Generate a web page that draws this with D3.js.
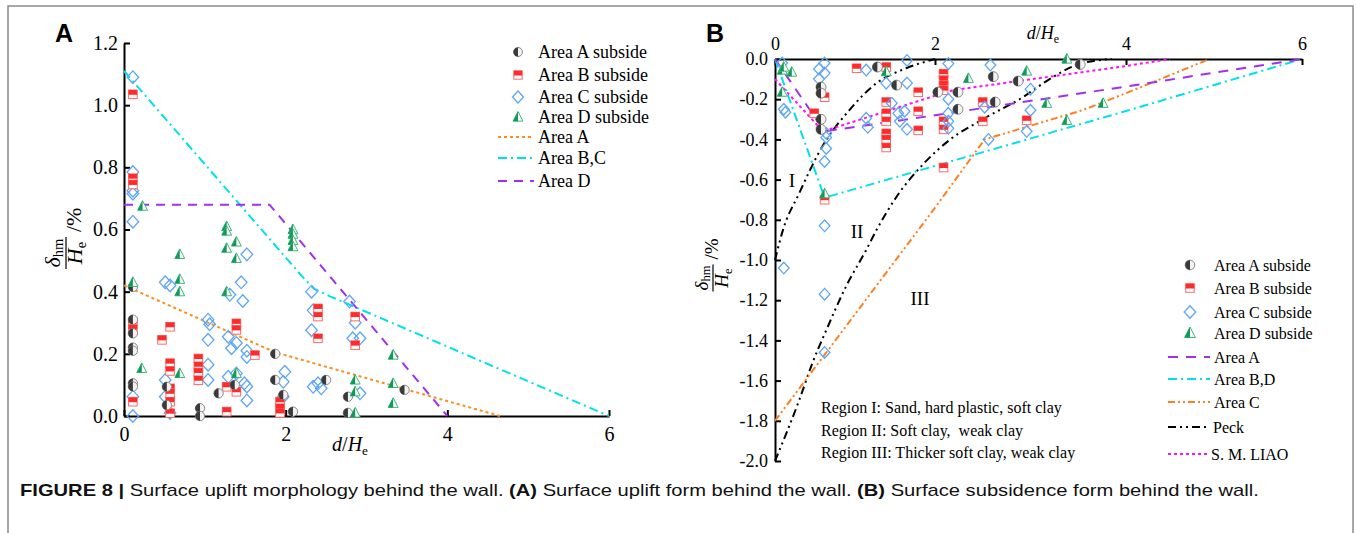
<!DOCTYPE html>
<html><head><meta charset="utf-8">
<script src="https://cdn.jsdelivr.net/npm/d3@7"></script>
<style>body{margin:0;background:#fff}svg{display:block}</style>
</head><body>
<svg id="c" width="1356" height="533"></svg>
<script>
// ---------- Panel A (uplift) data ----------
const xTicksA = [0, 2, 4, 6];
const yTicksA = [0, 0.2, 0.4, 0.6, 0.8, 1.0, 1.2];
const aAreaA = [[0.11,0.31],[0.11,0.266],[0.11,0.22],[0.11,0.21],[0.11,0.105],[0.11,0.095],[0.11,0.415],
  [0.53,0.094],[0.53,0.035],[0.94,0.025],[0.94,0.0],[1.17,0.073],[1.37,0.10],[1.87,0.2],[1.87,0.116],
  [1.97,0.068],[2.09,0.014],[2.5,0.116],[2.77,0.062],[2.77,0.01],[3.47,0.084]];
const aAreaB = [[0.11,1.035],[0.11,0.765],[0.11,0.745],[0.11,0.30],[0.11,0.28],[0.11,0.046],[0.47,0.245],
  [0.57,0.287],[0.57,0.17],[0.57,0.145],[0.57,0.089],[0.57,0.073],[0.57,0.046],[0.57,0.009],
  [0.92,0.185],[0.92,0.16],[0.92,0.14],[0.92,0.115],[1.27,0.094],[1.39,0.298],[1.39,0.277],[1.39,0.078],
  [1.27,0.014],[1.62,0.196],[1.93,0.046],[1.93,0.025],[1.93,0.01],[2.40,0.346],[2.40,0.32],[2.40,0.25],
  [2.86,0.32],[2.86,0.228]];
const aAreaC = [[0.11,1.09],[0.11,0.785],[0.11,0.725],[0.11,0.715],[0.11,0.625],[0.11,0.062],[0.11,0.0],
  [0.51,0.43],[0.57,0.42],[0.51,0.116],[0.51,0.062],[0.57,0.01],[1.04,0.31],[1.06,0.295],[1.04,0.245],
  [1.04,0.165],[1.04,0.116],[1.29,0.255],[1.33,0.218],[1.31,0.39],[1.45,0.43],[1.47,0.37],[1.52,0.52],
  [1.39,0.235],[1.52,0.21],[1.52,0.19],[1.29,0.126],[1.49,0.105],[1.52,0.095],[1.52,0.05],[1.39,0.137],
  [1.99,0.142],[1.97,0.11],[1.97,0.062],[2.32,0.40],[2.34,0.34],[2.32,0.276],[2.34,0.094],[2.40,0.105],
  [2.44,0.089],[2.79,0.368],[2.86,0.30],[2.83,0.25],[2.92,0.25],[2.92,0.073]];
const aAreaD = [[0.23,0.675],[0.11,0.43],[0.22,0.153],[0.69,0.52],[0.69,0.44],[0.69,0.40],[0.69,0.137],
  [1.27,0.61],[1.27,0.595],[1.27,0.54],[1.39,0.56],[1.39,0.507],[1.27,0.40],[1.39,0.137],
  [2.09,0.60],[2.09,0.585],[2.09,0.565],[2.09,0.545],[2.86,0.116],[2.86,0.078],[2.86,0.01],
  [3.33,0.196],[3.33,0.105],[3.33,0.041]];
const aLineA = [[0,0.42],[1.87,0.205],[4.65,0]];
const aLineBC = [[0,1.11],[2.0,0.51],[2.2,0.45],[2.35,0.41],[2.55,0.385],[6,0]];
const aLineD = [[0,0.68],[1.8,0.68],[4,0]];
const legendMarkersA = ["Area A subside","Area B subside","Area C subside","Area D subside"];
const legendLinesA = ["Area A","Area B,C","Area D"];

// ---------- Panel B (subsidence) data ----------
const xTicksB = [0, 2, 4, 6];
const yTicksB = [0,-0.2,-0.4,-0.6,-0.8,-1.0,-1.2,-1.4,-1.6,-1.8,-2.0];
const bAreaA = [[0.575,-0.14],[0.575,-0.17],[0.575,-0.30],[0.575,-0.35],[1.28,-0.04],[1.52,-0.13],
  [2.03,-0.165],[2.24,-0.165],[2.24,-0.25],[2.61,-0.088],[2.63,-0.214],[2.87,-0.11],[3.52,-0.027]];
const bAreaB = [[0.49,-0.27],[0.62,-0.19],[0.62,-0.70],[1.02,-0.046],[1.39,-0.04],[1.39,-0.214],
  [1.39,-0.27],[1.39,-0.31],[1.39,-0.37],[1.39,-0.40],[1.39,-0.44],[1.79,-0.165],[1.79,-0.26],
  [1.79,-0.355],[2.09,-0.073],[2.09,-0.105],[2.09,-0.13],[2.09,-0.155],[2.09,-0.31],[2.09,-0.35],
  [2.09,-0.54],[2.5,-0.214],[2.5,-0.31],[2.96,-0.305]];
const bAreaC = [[0.09,-0.02],[0.11,-0.25],[0.13,-0.265],[0.62,-0.02],[0.55,-0.05],[0.62,-0.07],[0.55,-0.10],
  [0.64,-0.37],[0.64,-0.39],[0.64,-0.445],[0.62,-0.51],[0.62,-0.83],[0.11,-1.04],[0.62,-1.17],[0.62,-1.46],
  [1.14,-0.055],[1.14,-0.295],[1.16,-0.34],[1.39,-0.12],[1.46,-0.22],[1.65,-0.007],[1.65,-0.12],
  [1.54,-0.27],[1.62,-0.26],[1.56,-0.31],[1.65,-0.35],[2.14,-0.023],[2.14,-0.2],[2.14,-0.27],
  [2.14,-0.31],[2.14,-0.345],[2.58,-0.03],[2.52,-0.24],[2.56,-0.40],[3.0,-0.15],[3.0,-0.255],[2.96,-0.36]];
const bAreaD = [[0.09,-0.055],[0.11,-0.04],[0.21,-0.065],[0.09,-0.165],[0.62,-0.67],[1.39,-0.063],
  [2.35,-0.096],[2.96,-0.06],[3.17,-0.22],[3.38,-0.305],[3.76,-0.22],[3.38,0]];
const bLineA = [[0,0],[0.62,-0.36],[2,-0.28],[4,-0.137],[6,0]];
const bLineBD = [[0,0],[0.62,-0.69],[2,-0.532],[4,-0.259],[6,0]];
const bLineC = [[0,-1.8],[2,-0.74],[2.52,-0.40],[3.55,-0.254],[4,-0.17],[4.95,0]];
const bPeck1 = [[0,-1.0],[0.1,-0.85],[0.3,-0.67],[0.59,-0.436],[0.93,-0.254],[1.27,-0.12],[1.64,-0.046],[2.0,0]];
const bPeck2 = [[0,-2.0],[0.3,-1.70],[0.47,-1.51],[0.64,-1.35],[0.89,-1.13],[1.14,-0.95],[1.27,-0.85],
  [1.52,-0.685],[1.86,-0.52],[2.16,-0.40],[2.5,-0.30],[2.92,-0.19],[3.2,-0.10],[3.48,-0.03],[3.85,0]];
const bLiao = [[0,-0.1],[0.6,-0.36],[2,-0.183],[2.19,-0.155],[4,-0.035],[4.5,0]];
const legendMarkersB = ["Area A subside","Area B subside","Area C subside","Area D subside"];
const legendLinesB = ["Area A","Area B,D","Area C","Peck","S. M. LIAO"];
const regionNames = ["I","II","III"];
const regionNotes = ["Region I: Sand, hard plastic, soft clay","Region II: Soft clay,  weak clay","Region III: Thicker soft clay, weak clay"];

// ---------- drawing ----------
const svg = d3.select("#c");
const SERIF = "'Liberation Serif','Times New Roman',serif";
const SANS = "'Liberation Sans',Arial,sans-serif";

svg.append("rect").attr("x",8).attr("y",6).attr("width",1345).attr("height",600)
  .attr("fill","none").attr("stroke","#8a8a8a").attr("stroke-width",1.5);

function halfCircle(g,cx,cy,r){
  g.append("circle").attr("cx",cx).attr("cy",cy).attr("r",r).attr("fill","#f2f2f2").attr("stroke","#8a8a8a").attr("stroke-width",1);
  g.append("path").attr("d",`M${cx},${cy-r}A${r},${r} 0 0 0 ${cx},${cy+r}Z`).attr("fill","#3a3a3a");
}
function halfSquare(g,cx,cy,s){
  g.append("rect").attr("x",cx-s).attr("y",cy-s).attr("width",2*s).attr("height",2*s).attr("fill","#fff").attr("stroke","#ff6a6a").attr("stroke-width",1);
  g.append("rect").attr("x",cx-s).attr("y",cy-s).attr("width",2*s).attr("height",s+0.5).attr("fill","#ff2b2b");
}
function diamond(g,cx,cy,s){
  g.append("path").attr("d",`M${cx},${cy-s}L${cx+s*0.92},${cy}L${cx},${cy+s}L${cx-s*0.92},${cy}Z`)
    .attr("fill","none").attr("stroke","#5ea6f5").attr("stroke-width",1.3);
}
function halfTri(g,cx,cy,s){
  const t=cy-s, b=cy+s*0.75, l=cx-s*0.9, r=cx+s*0.9;
  g.append("path").attr("d",`M${cx},${t}L${r},${b}L${l},${b}Z`).attr("fill","#fff").attr("stroke","#3cb878").attr("stroke-width",1);
  g.append("path").attr("d",`M${cx},${t}L${cx},${b}L${l},${b}Z`).attr("fill","#109a58");
}

function styleAxis(g, fs){
  g.attr("font-family",null).attr("font-size",null);
  g.select(".domain").attr("stroke","#000").attr("stroke-width",2);
  g.selectAll(".tick line").attr("stroke","#000").attr("stroke-width",2);
  g.selectAll(".tick text").attr("fill","#000").style("font-family",SERIF).style("font-size",fs+"px");
}

function yLabel(cx,cy,fs,bar,slashV,numB,denB){
  const g = svg.append("g").attr("transform",`translate(${cx},${cy}) rotate(-90)`)
    .style("font-family",SERIF).style("font-size",fs+"px");
  const num = g.append("text").attr("x",0).attr("y",numB).attr("text-anchor","middle");
  num.append("tspan").attr("font-style","italic").text("δ");
  num.append("tspan").attr("font-size",(fs*0.66)+"px").attr("dy",fs*0.12).text("hm");
  g.append("line").attr("x1",-bar/2).attr("x2",bar/2).attr("y1",0).attr("y2",0).attr("stroke","#000").attr("stroke-width",1.2);
  const den = g.append("text").attr("x",0).attr("y",denB).attr("text-anchor","middle");
  den.append("tspan").attr("font-style","italic").text("H");
  den.append("tspan").attr("font-size",(fs*0.66)+"px").attr("dy",fs*0.2).text("e");
  g.append("text").attr("x",bar/2+5).attr("y",slashV).text("/%");
}
function xLabel(x,y,fs){
  const t = svg.append("text").attr("x",x).attr("y",y).attr("text-anchor","middle")
    .style("font-family",SERIF).style("font-size",fs+"px");
  t.append("tspan").attr("font-style","italic").text("d");
  t.append("tspan").text("/");
  t.append("tspan").attr("font-style","italic").text("H");
  t.append("tspan").attr("font-size",(fs*0.66)+"px").attr("dy",fs*0.2).text("e");
}

// ===== Panel A =====
const xA = d3.scaleLinear().domain([0,6]).range([124,609]);
const yA = d3.scaleLinear().domain([0,1.2]).range([416,43]);
const lineA = d3.line().x(d=>xA(d[0])).y(d=>yA(d[1]));

svg.append("text").attr("x",55).attr("y",42).text("A").style("font-family",SANS).style("font-weight","bold").style("font-size","25px");

const gAy = svg.append("g").attr("transform","translate(124,0)")
  .call(d3.axisLeft(yA).tickValues(yTicksA).tickFormat(d=>d.toFixed(1)).tickSizeInner(-6).tickSizeOuter(0).tickPadding(6));
styleAxis(gAy,20);
const gAx = svg.append("g").attr("transform","translate(0,416)")
  .call(d3.axisBottom(xA).tickValues(xTicksA).tickFormat(d3.format("d")).tickSizeInner(-6).tickSizeOuter(0).tickPadding(11));
styleAxis(gAx,20);

const dashA = {"A":"3,3","BC":"9,4,2,4","D":"9,7"};
svg.append("path").attr("d",lineA(aLineA)).attr("fill","none").attr("stroke","#ff8c1a").attr("stroke-width",2).attr("stroke-dasharray",dashA.A);
svg.append("path").attr("d",lineA(aLineBC)).attr("fill","none").attr("stroke","#00e0ea").attr("stroke-width",2).attr("stroke-dasharray",dashA.BC);
svg.append("path").attr("d",lineA(aLineD)).attr("fill","none").attr("stroke","#a030f0").attr("stroke-width",2).attr("stroke-dasharray",dashA.D);

const mA = svg.append("g");
aAreaC.forEach(d=>diamond(mA,xA(d[0]),yA(d[1]),6.3));
aAreaB.forEach(d=>halfSquare(mA,xA(d[0]),yA(d[1]),4.3));
aAreaA.forEach(d=>halfCircle(mA,xA(d[0]),yA(d[1]),4.7));
aAreaD.forEach(d=>halfTri(mA,xA(d[0]),yA(d[1]),5.5));

yLabel(66,253,22,32,15,-6,16);
xLabel(350,451,20);

// legend A
const lgA = svg.append("g").style("font-family",SERIF).style("font-size","18px");
const mkFns = [(g,x,y)=>halfCircle(g,x,y,4.5),(g,x,y)=>halfSquare(g,x,y,4.2),(g,x,y)=>diamond(g,x,y,6),(g,x,y)=>halfTri(g,x,y,5.5)];
const rowsA = [52,75,97,117];
legendMarkersA.forEach((t,i)=>{ mkFns[i](lgA,518,rowsA[i]); lgA.append("text").attr("x",538).attr("y",rowsA[i]+6).text(t); });
const lineRowsA = [137,158,181];
const lineStylesA = [["#ff8c1a",dashA.A],["#00e0ea",dashA.BC],["#a030f0",dashA.D]];
legendLinesA.forEach((t,i)=>{
  lgA.append("line").attr("x1",498).attr("x2",534).attr("y1",lineRowsA[i]).attr("y2",lineRowsA[i])
    .attr("stroke",lineStylesA[i][0]).attr("stroke-width",2).attr("stroke-dasharray",lineStylesA[i][1]);
  lgA.append("text").attr("x",538).attr("y",lineRowsA[i]+6).text(t);
});

// ===== Panel B =====
const xB = d3.scaleLinear().domain([0,2,4,6]).range([775,935,1126,1302]);
const yB = d3.scaleLinear().domain([-2,0]).range([461,59]);
const lineB = d3.line().x(d=>xB(d[0])).y(d=>yB(d[1]));
const curveB = d3.line().x(d=>xB(d[0])).y(d=>yB(d[1])).curve(d3.curveMonotoneX);

svg.append("text").attr("x",706).attr("y",42).text("B").style("font-family",SANS).style("font-weight","bold").style("font-size","25px");

const gBy = svg.append("g").attr("transform","translate(775,0)")
  .call(d3.axisLeft(yB).tickValues(yTicksB).tickFormat(d=>(d===0?0:d).toFixed(1)).tickSizeInner(-6).tickSizeOuter(0).tickPadding(7));
styleAxis(gBy,18);
const gBx = svg.append("g").attr("transform","translate(0,59)")
  .call(d3.axisTop(xB).tickValues(xTicksB).tickFormat(d3.format("d")).tickSizeInner(-6).tickSizeOuter(0).tickPadding(9));
styleAxis(gBx,18);

const st = {
  A:["#a030f0","10,8"], BD:["#00e0ea","9,4,2,4"], C:["#ff7f1e","7,3,2,3,2,3"],
  P:["#000000","8,4,2,4,2,4"], L:["#ff10ff","3,3"]
};
function drawB(data,s,gen){
  svg.append("path").attr("d",(gen||lineB)(data)).attr("fill","none").attr("stroke",s[0]).attr("stroke-width",2).attr("stroke-dasharray",s[1]);
}
drawB(bPeck1,st.P,curveB);
drawB(bPeck2,st.P,curveB);
drawB(bLineC,st.C);
drawB(bLineBD,st.BD);
drawB(bLiao,st.L);
drawB(bLineA,st.A);

const mB = svg.append("g");
bAreaB.forEach(d=>halfSquare(mB,xB(d[0]),yB(d[1]),4.3));
bAreaC.forEach(d=>diamond(mB,xB(d[0]),yB(d[1]),5.8));
bAreaA.forEach(d=>halfCircle(mB,xB(d[0]),yB(d[1]),5));
bAreaD.forEach(d=>halfTri(mB,xB(d[0]),yB(d[1]),5.5));

yLabel(713,278,19,27,5,-5,15);
xLabel(1043,39,18);

// region labels
const regPos = [[792,187],[857,238],[920,305]];
regionNames.forEach((t,i)=>svg.append("text").attr("x",regPos[i][0]).attr("y",regPos[i][1]).attr("text-anchor","middle")
  .style("font-family",SERIF).style("font-size","19px").text(t));
const noteY = [413,436,458];
regionNotes.forEach((t,i)=>svg.append("text").attr("x",821).attr("y",noteY[i])
  .style("font-family",SERIF).style("font-size","16px").style("white-space","pre").text(t));

// legend B
const lgB = svg.append("g").style("font-family",SERIF).style("font-size","16px");
const rowsB = [265,288,312,333];
const mkFnsB = [(g,x,y)=>halfCircle(g,x,y,4.8),(g,x,y)=>halfSquare(g,x,y,4.3),(g,x,y)=>diamond(g,x,y,6.3),(g,x,y)=>halfTri(g,x,y,6)];
legendMarkersB.forEach((t,i)=>{ mkFnsB[i](lgB,1190,rowsB[i]); lgB.append("text").attr("x",1214).attr("y",rowsB[i]+5.5).text(t); });
const lineRowsB = [357,379,402,427,454];
const lineStylesB = [st.A,st.BD,st.C,st.P,st.L];
const lineTextX = [1214,1214,1214,1213,1211];
legendLinesB.forEach((t,i)=>{
  lgB.append("line").attr("x1",1168).attr("x2",1210).attr("y1",lineRowsB[i]).attr("y2",lineRowsB[i])
    .attr("stroke",lineStylesB[i][0]).attr("stroke-width",2).attr("stroke-dasharray",lineStylesB[i][1]);
  lgB.append("text").attr("x",lineTextX[i]).attr("y",lineRowsB[i]+5.5).text(t);
});

// ===== caption =====
const capParts = [["FIGURE 8 | ",true],["Surface uplift morphology behind the wall. ",false],["(A)",true],
  [" Surface uplift form behind the wall. ",false],["(B)",true],[" Surface subsidence form behind the wall.",false]];
const cap = svg.append("text").attr("x",0).attr("y",0).style("font-family",SANS).style("font-size","17px").style("white-space","pre").attr("fill","#111");
capParts.forEach(p=>cap.append("tspan").style("font-weight",p[1]?"bold":"normal").text(p[0]));
const w = cap.node().getComputedTextLength();
cap.attr("transform",`translate(20,496) scale(${1240/w},1)`);
</script>
</body></html>
